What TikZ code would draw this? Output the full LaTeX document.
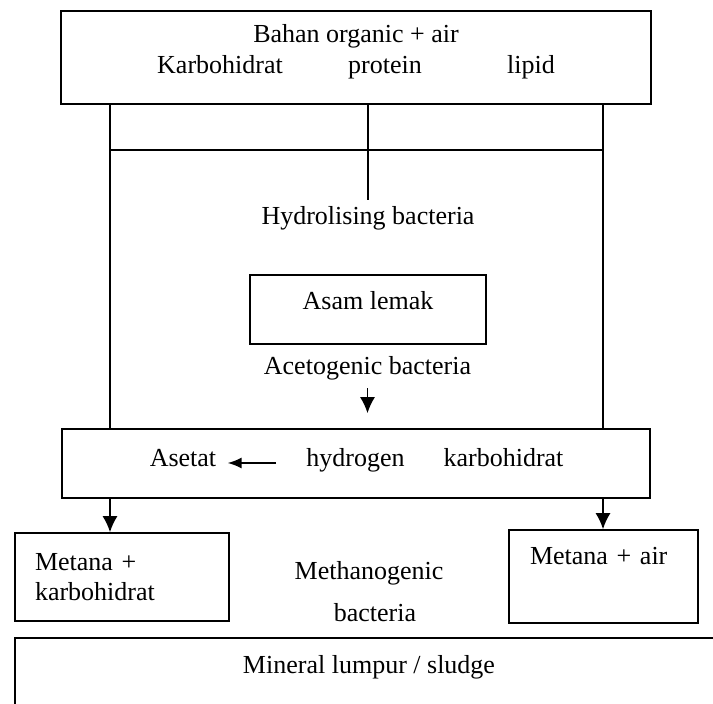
\documentclass[tikz,border=0pt]{standalone}
\usepackage{fontspec}
\setmainfont{Liberation Serif}
\usepackage{tikz}
\usetikzlibrary{shapes,arrows,arrows.meta}
\usetikzlibrary{positioning}
\tikzstyle{box} = [draw, rectangle, line width=0.8pt, inner sep=0pt]
\tikzstyle{lbl} = [text height=9pt, text depth=3pt]
\tikzstyle{line} = [draw, line width=0.8pt, -{Latex[length=8pt,width=7.5pt]}]

\begin{document}
\begin{tikzpicture}[x=0.5pt, y=-0.5pt, line width=0.8pt,
  font=\fontsize{13}{15}\selectfont]
	\useasboundingbox (0,0) rectangle (713,704);
	\clip (0,0) rectangle (713,704);
	% Boxes
	\node [box, minimum width=295pt, minimum height=46.5pt] (bahan) at (356,57.5) {};
	\node [box, minimum width=118pt, minimum height=34.5pt, text height=9pt, text depth=9pt] (asam) at (368,309.5) {Asam lemak};
	\node [box, minimum width=294pt, minimum height=34.5pt] (asetatbox) at (356,463.5) {};
	\node [box, minimum width=107pt, minimum height=44pt, text width=87pt, inner xsep=10pt, align=left] (mk) at (122,577) {Metana +\\karbohidrat};
	\node [box, minimum width=94.5pt, minimum height=46.5pt, text width=73.5pt, inner xsep=10.5pt, align=left, text height=9pt, text depth=20.5pt] (ma) at (603.5,576.5) {Metana + air};
	\node [box, minimum width=354pt, minimum height=36pt, text height=9pt, text depth=9pt] (mineral) at (369,674) {Mineral lumpur / sludge};
	% Texts
	\node [lbl] (organic) at (356,37) {Bahan organic + air};
	\node [lbl] (karbo) at (220,68) {Karbohidrat};
	\node [lbl] (protein) at (385,68) {protein};
	\node [lbl] (lipid) at (531,68) {lipid};
	\node [lbl] (hydro) at (368,219) {Hydrolising bacteria};
	\node [lbl] (aceto) at (367.5,369) {Acetogenic bacteria};
	\node [lbl] (asetat) at (183,461) {Asetat};
	\node [lbl] (hydrogen) at (355.5,461) {hydrogen};
	\node [lbl] (karbohid) at (503.5,461) {karbohidrat};
	\node [lbl] (methano) at (369,574) {Methanogenic};
	\node [lbl] (bact) at (375,616) {bacteria};
	\coordinate (jl) at (110,150);
	\coordinate (jr) at (603,150);

	% Connectors
	\draw (bahan.south -| jl) -- (asetatbox.north -| jl);
	\draw (bahan.south -| jr) -- (asetatbox.north -| jr);
	\draw (jl) -- (jr);
	\draw (bahan.south -| hydro) -- (hydro.north);
	\path [line] (aceto.south) -- ([yshift=7.5pt]asetatbox.north -| aceto);
	\path [line, -{Latex[length=7pt,width=5.5pt]}, shorten <=11.4pt, shorten >=2pt] ([yshift=-1pt]hydrogen.west) -- ([yshift=-1pt]asetat.east);
	\path [line] (asetatbox.south -| jl) -- (mk.north -| jl);
	\path [line] (asetatbox.south -| jr) -- (ma.north -| jr);
\end{tikzpicture}
\end{document}
